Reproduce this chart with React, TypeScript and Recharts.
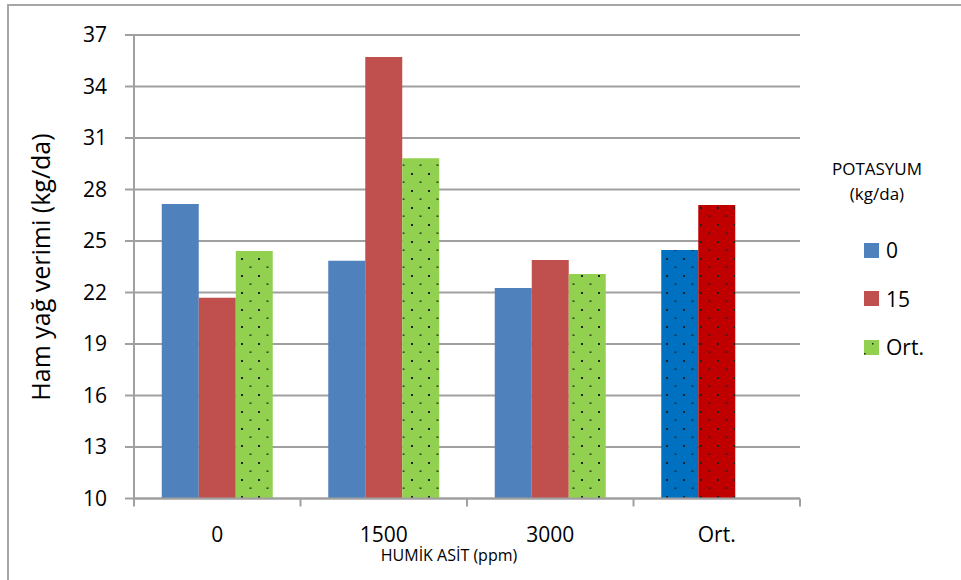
import React from "react";
import { BarChart, Bar, XAxis, YAxis, CartesianGrid, Cell } from "recharts";

const categories = ["0", "1500", "3000", "Ort."];
const series0 = [27.15, 23.85, 22.26, 24.48];
const series15 = [21.7, 35.72, 23.9, 27.1];
const seriesOrt = [24.42, 29.82, 23.08, null];
const yTicks = [10, 13, 16, 19, 22, 25, 28, 31, 34, 37];

const data = categories.map((c, i) => ({
  cat: c,
  k0: series0[i],
  k15: series15[i],
  kOrt: seriesOrt[i],
}));

const FONT = "'Open Sans', Lato, sans-serif";
const GRID = "#A0A0A0";

const XTick = (props: any) => {
  const { x, y, payload, index } = props;
  const off = payload && typeof payload.offset === "number" ? payload.offset : 83.25;
  const last = index === categories.length - 1;
  return (
    <g>
      <line x1={x - off} x2={x - off} y1={y} y2={y + 8} stroke={GRID} strokeWidth={2} />
      {last && <line x1={x + off} x2={x + off} y1={y} y2={y + 8} stroke={GRID} strokeWidth={2} />}
      <text x={x} y={y + 43} textAnchor="middle" fontFamily={FONT} fontSize={21} fill="#000">
        {payload.value}
      </text>
    </g>
  );
};

const legendItems = [
  { label: "0", fill: "#4F81BD", dots: false },
  { label: "15", fill: "#C0504D", dots: false },
  { label: "Ort.", fill: "#92D050", dots: true },
];

export default function App() {
  return (
    <div style={{ position: "absolute", left: 0, top: 0, width: 961, height: 580, background: "#fff", fontFamily: FONT }}>
      <div
        style={{
          position: "absolute",
          left: 7,
          top: 4,
          width: 960,
          height: 580,
          borderTop: "2px solid #A6A6A6",
          borderLeft: "2px solid #A6A6A6",
          boxSizing: "border-box",
        }}
      />
      <BarChart
        width={961}
        height={580}
        data={data}
        margin={{ top: 35, right: 161, bottom: 0, left: 0 }}
        barCategoryGap="16.67%"
        barGap={0}
        style={{ position: "absolute", left: 0, top: 0 }}
      >
        <defs>
          <pattern id="dotsGreen" patternUnits="userSpaceOnUse" width={17} height={17}>
            <rect x={0} y={0} width={17} height={17} fill="#92D050" />
            <rect x={3} y={3} width={2} height={2} fill="#222" />
            <rect x={11.5} y={11.5} width={2} height={1.3} fill="#222" />
          </pattern>
          <pattern id="dotsBlue" patternUnits="userSpaceOnUse" width={17} height={17}>
            <rect x={0} y={0} width={17} height={17} fill="#0070C0" />
            <rect x={3} y={3} width={2} height={2} fill="#222" />
            <rect x={11.5} y={11.5} width={2} height={1.3} fill="#222" />
          </pattern>
          <pattern id="dotsRed" patternUnits="userSpaceOnUse" width={17} height={17}>
            <rect x={0} y={0} width={17} height={17} fill="#C00000" />
            <rect x={3} y={3} width={2} height={2} fill="#222" />
            <rect x={11.5} y={11.5} width={2} height={1.3} fill="#222" />
          </pattern>
        </defs>
        <CartesianGrid vertical={false} stroke={GRID} strokeWidth={2} />
        <XAxis
          dataKey="cat"
          height={81.5}
          axisLine={{ stroke: GRID, strokeWidth: 2 }}
          tickLine={false}
          tickSize={0}
          tickMargin={0}
          interval={0}
          tick={<XTick />}
        />
        <YAxis
          width={134}
          domain={[10, 37]}
          ticks={yTicks}
          interval={0}
          allowDataOverflow
          axisLine={{ stroke: GRID, strokeWidth: 2 }}
          tickLine={{ stroke: GRID, strokeWidth: 2 }}
          tickSize={9}
          tickMargin={18}
          tick={{ fontFamily: FONT, fontSize: 21, fill: "#000" }}
        />
        <Bar dataKey="k0" fill="#4F81BD" isAnimationActive={false}>
          {data.map((d, i) => (
            <Cell key={i} fill={d.cat === "Ort." ? "url(#dotsBlue)" : "#4F81BD"} />
          ))}
        </Bar>
        <Bar dataKey="k15" fill="#C0504D" isAnimationActive={false}>
          {data.map((d, i) => (
            <Cell key={i} fill={d.cat === "Ort." ? "url(#dotsRed)" : "#C0504D"} />
          ))}
        </Bar>
        <Bar dataKey="kOrt" fill="url(#dotsGreen)" isAnimationActive={false} />
      </BarChart>

      <div
        style={{
          position: "absolute",
          left: 40,
          top: 267,
          transform: "translate(-50%, -50%) rotate(-90deg)",
          whiteSpace: "nowrap",
          fontSize: 25,
          color: "#000",
        }}
      >
        Ham yağ verimi (kg/da)
      </div>

      <div
        style={{
          position: "absolute",
          left: 449,
          top: 555,
          transform: "translate(-50%, -50%)",
          whiteSpace: "nowrap",
          fontSize: 16,
          color: "#000",
        }}
      >
        HUMİK ASİT (ppm)
      </div>

      <div
        style={{
          position: "absolute",
          left: 877,
          top: 181,
          transform: "translate(-50%, -50%)",
          textAlign: "center",
          fontSize: 17,
          lineHeight: "25px",
          color: "#000",
          whiteSpace: "nowrap",
        }}
      >
        POTASYUM
        <br />
        (kg/da)
      </div>

      {legendItems.map((it, i) => (
        <div
          key={it.label}
          style={{
            position: "absolute",
            left: 864,
            top: 250 + i * 48.5,
            transform: "translateY(-50%)",
            display: "flex",
            alignItems: "center",
            whiteSpace: "nowrap",
          }}
        >
          <svg width={15} height={15} style={{ display: "block" }}>
            <rect x={0} y={0} width={15} height={15} fill={it.fill} />
            {it.dots && <rect x={8} y={3} width={1.5} height={1.5} fill="#222" />}
            {it.dots && <rect x={0} y={13} width={1.5} height={1.5} fill="#222" />}
          </svg>
          <span style={{ marginLeft: 7, fontSize: 21, color: "#000", lineHeight: "24px" }}>{it.label}</span>
        </div>
      ))}
    </div>
  );
}
